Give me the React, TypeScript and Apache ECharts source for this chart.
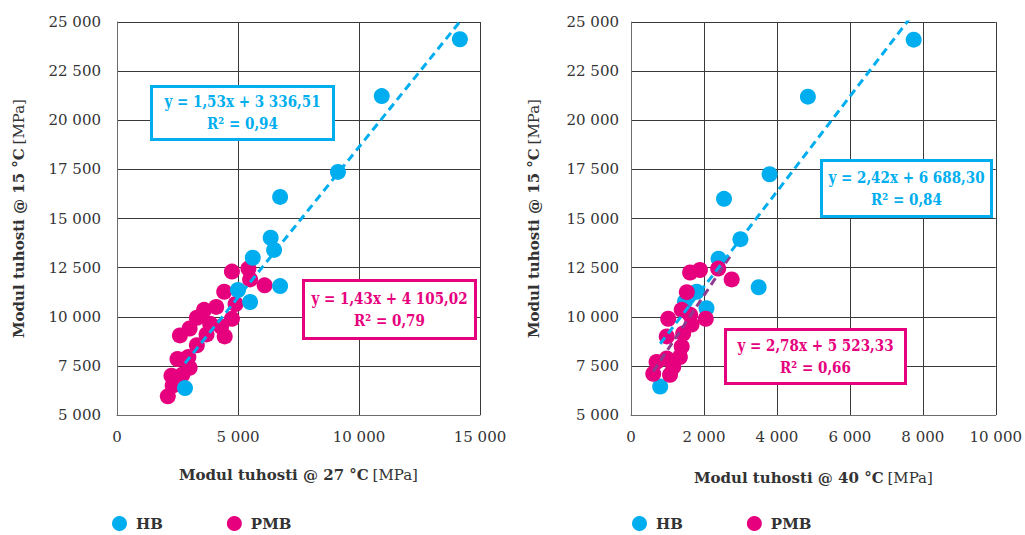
import React, { useEffect, useRef } from 'react';
import * as echarts from 'echarts';

const BLUE = '#00aeef';
const PINK = '#e6007e';
const PURPLE = '#8e3a8f';
const TEXT = '#333333';
const FONT = '"DejaVu Serif", serif';

const seriesNames = ['HB', 'PMB'];

// Modul tuhosti @ 27 °C (x) vs @ 15 °C (y)
const hb27: number[][] = [
  [2810, 6370], [5000, 11360], [5500, 10750], [5610, 13000], [6350, 14020],
  [6490, 13400], [6740, 11560], [6740, 16100], [9130, 17370], [10940, 21230],
  [14170, 24120],
];
const pmb27: number[][] = [
  [2100, 5950], [2300, 6500], [2250, 7000], [2700, 7050], [3000, 7400],
  [2500, 7850], [2950, 7950], [3300, 8550], [2600, 9050], [3700, 9100],
  [4450, 9000], [4300, 9500], [3000, 9400], [3850, 9650], [3300, 9950],
  [4750, 9900], [3600, 10350], [4100, 10500], [4900, 10650], [4430, 11270],
  [4750, 12300], [5430, 12450], [5500, 11900], [6100, 11600],
];

// Modul tuhosti @ 40 °C (x) vs @ 15 °C (y)
const hb40: number[][] = [
  [800, 6450], [1480, 10770], [1800, 11270], [2070, 10430], [2400, 12950],
  [3000, 13950], [3500, 11500], [2550, 16000], [3800, 17250], [4850, 21200],
  [7750, 24100],
];
const pmb40: number[][] = [
  [610, 7100], [1070, 7050], [700, 7700], [980, 7880], [1160, 7450],
  [1340, 7950], [1390, 8480], [980, 9000], [1430, 9150], [1660, 9600],
  [1620, 10100], [1020, 9900], [2050, 9900], [1390, 10350], [1530, 11250],
  [1620, 12250], [1890, 12380], [2390, 12450], [2760, 11900],
];

// Regression lines shown in the chart
const trendHB27 = { slope: 1.53, intercept: 3336.51, r2: 0.94 };
const trendPMB27 = { slope: 1.43, intercept: 4105.02, r2: 0.79 };
const trendHB40 = { slope: 2.42, intercept: 6688.3, r2: 0.84 };
const trendPMB40 = { slope: 2.78, intercept: 5523.33, r2: 0.66 };

const yTicks = { min: 5000, max: 25000, interval: 2500 };
const x27Ticks = { min: 0, max: 15000, interval: 5000 };
const x40Ticks = { min: 0, max: 10000, interval: 2000 };

const group = (v: number) => String(v).replace(/\B(?=(\d{3})+(?!\d))/g, ' ');
const decimal = (v: number) => {
  const [i, f] = v.toFixed(2).split('.');
  return group(Number(i)) + ',' + f;
};
const eqText = (t: { slope: number; intercept: number }) =>
  `y = ${t.slope.toFixed(2).replace('.', ',')}x + ${decimal(t.intercept)}`;
const r2Text = (t: { r2: number }) => `R² = ${t.r2.toFixed(2).replace('.', ',')}`;

const trendLine = (t: { slope: number; intercept: number }, pts: number[][]) => {
  const xs = pts.map((p) => p[0]);
  const a = Math.min(...xs);
  const b = Math.max(...xs);
  return [
    [a, t.slope * a + t.intercept],
    [b, t.slope * b + t.intercept],
  ];
};

const boxText = (text: string, x: number, y: number, color: string) => ({
  type: 'text',
  x,
  y,
  z: 101,
  scaleX: 0.82,
  style: {
    text, fill: color, fontFamily: FONT, fontWeight: 'bold', fontSize: 16.5,
    textAlign: 'center', textVerticalAlign: 'middle',
  },
});

const box = (
  x: number, y: number, w: number, h: number, color: string,
  t: { slope: number; intercept: number; r2: number },
) => ({
  type: 'group',
  z: 100,
  children: [
    {
      type: 'rect',
      shape: { x, y, width: w, height: h },
      style: { fill: '#ffffff', stroke: color, lineWidth: 3 },
      z: 100,
    },
    boxText(eqText(t), x + w / 2, y + h / 2 - 11, color),
    boxText(r2Text(t), x + w / 2, y + h / 2 + 11, color),
  ],
});

const axisName = (bold: string) => `{b|${bold}} {n|[MPa]}`;
const nameRich = {
  rich: {
    b: { fontFamily: FONT, fontWeight: 'bold', fontSize: 15, color: TEXT },
    n: { fontFamily: FONT, fontSize: 15, color: TEXT },
  },
};

const valueAxis = (gridIndex: number, ticks: any, name: string, nameGap: number, labelMargin: number) => ({
  type: 'value',
  gridIndex,
  min: ticks.min,
  max: ticks.max,
  interval: ticks.interval,
  axisLine: { show: true, onZero: false, lineStyle: { color: '#6d6d6d', width: 1 } },
  axisTick: { show: false },
  splitLine: { show: true, lineStyle: { color: '#3a3a3a', width: 1 } },
  axisLabel: { formatter: group, color: TEXT, fontFamily: FONT, fontSize: 15, margin: labelMargin },
  name,
  nameLocation: 'middle',
  nameGap,
  nameTextStyle: nameRich,
});

const scatter = (name: string, data: number[][], color: string, idx: number) => ({
  type: 'scatter',
  name,
  xAxisIndex: idx,
  yAxisIndex: idx,
  data,
  symbol: 'circle',
  symbolSize: 16,
  itemStyle: { color, opacity: 1 },
});

const line = (name: string, data: number[][], color: string, idx: number) => ({
  type: 'line',
  name,
  xAxisIndex: idx,
  yAxisIndex: idx,
  data,
  showSymbol: false,
  symbol: 'none',
  clip: true,
  lineStyle: { color, width: 3, type: [8, 5] },
  silent: true,
});

const legend = (left: number) => ({
  left,
  top: 511,
  data: seriesNames,
  icon: 'circle',
  itemWidth: 15,
  itemHeight: 15,
  itemGap: 64,
  textStyle: { fontFamily: FONT, fontWeight: 'bold', fontSize: 15, color: TEXT, padding: [0, 0, 0, 4] },
});

export default function App() {
  const ref = useRef<HTMLDivElement>(null);
  useEffect(() => {
    if (!ref.current) return;
    const chart = echarts.init(ref.current, undefined, { renderer: 'svg' });
    chart.setOption({
      animation: false,
      backgroundColor: '#ffffff',
      textStyle: { fontFamily: FONT },
      grid: [
        { left: 117, right: 1025 - 480, top: 22, bottom: 535 - 415 },
        { left: 631, right: 1025 - 996, top: 22, bottom: 535 - 415 },
      ],
      xAxis: [
        valueAxis(0, x27Ticks, axisName('Modul tuhosti @ 27 °C'), 52, 14),
        valueAxis(1, x40Ticks, axisName('Modul tuhosti @ 40 °C'), 55, 14),
      ],
      yAxis: [
        { ...valueAxis(0, yTicks, axisName('Modul tuhosti @ 15 °C'), 91, 16), nameRotate: 90 },
        { ...valueAxis(1, yTicks, axisName('Modul tuhosti @ 15 °C'), 90, 12), nameRotate: 90 },
      ],
      legend: [legend(107), legend(627)],
      series: [
        scatter('PMB', pmb27, PINK, 0),
        scatter('HB', hb27, BLUE, 0),
        line('HB trend 27', trendLine(trendHB27, hb27), BLUE, 0),
        scatter('HB', hb40, BLUE, 1),
        scatter('PMB', pmb40, PINK, 1),
        line('PMB trend 40', trendLine(trendPMB40, pmb40), PURPLE, 1),
        line('HB trend 40', trendLine(trendHB40, hb40), BLUE, 1),
      ],
      graphic: [
        box(151.5, 86.5, 182, 53, BLUE, trendHB27),
        box(303.5, 280.5, 172, 58, PINK, trendPMB27),
        box(821.5, 160.5, 170, 56, BLUE, trendHB40),
        box(725.5, 329.5, 180, 54, PINK, trendPMB40),
      ],
    });
    return () => chart.dispose();
  }, []);
  return <div ref={ref} style={{ position: 'absolute', left: 0, top: 0, width: 1025, height: 535 }} />;
}
